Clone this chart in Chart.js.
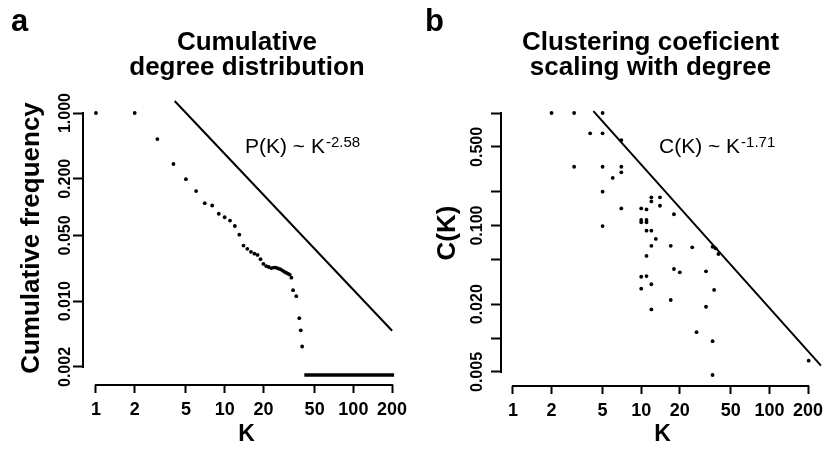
<!DOCTYPE html>
<html>
<head>
<meta charset="utf-8">
<script src="https://cdn.jsdelivr.net/npm/chart.js@4.4.1/dist/chart.umd.min.js"></script>
<style>
html, body { margin: 0; padding: 0; background: #fff; }
#wrap { position: relative; width: 828px; height: 449px; overflow: hidden; }
canvas { position: absolute; top: 0; }
#chartA { left: 0; }
#chartB { left: 414px; }
</style>
</head>
<body>
<div id="wrap">
  <canvas id="chartA" width="414" height="449"></canvas>
  <canvas id="chartB" width="414" height="449"></canvas>
</div>
<script>
// panel a: cumulative degree distribution
const degreeK = [1, 2, 3, 4, 5, 6, 7, 8, 9, 10, 11, 12, 13, 14, 15, 16, 17, 18, 19, 20,
  21, 22, 23, 24, 25, 26, 27, 28, 29, 30, 31, 32, 33, 34, 36, 38, 39, 40];
const cumFreq = [1.0, 1.0, 0.529, 0.287, 0.198, 0.148, 0.110, 0.104, 0.085, 0.078, 0.072, 0.063,
  0.051, 0.039, 0.036, 0.0335, 0.032, 0.031, 0.028, 0.0249, 0.0236, 0.0231, 0.0225, 0.0228,
  0.0228, 0.0223, 0.0219, 0.0213, 0.0206, 0.0201, 0.0196, 0.0192, 0.0178, 0.0131, 0.0113,
  0.0066, 0.0049, 0.0033];
const fitAK = [4.09, 200];
const fitAP = [1.34, 0.00486];
const barAK = [41.6, 207];
const barAP = [0.00164, 0.00164];

// panel b: clustering coefficient vs degree
const clusterK = [2, 3, 5, 4, 5, 7, 3, 5, 7, 7, 6, 5, 7, 10, 11, 12, 12, 14, 14, 18,
  10, 10, 11, 11, 5, 11, 12, 13, 12, 17, 25, 36, 38, 40, 11, 18, 20, 32, 10, 11,
  10, 12, 37, 17, 32, 12, 27, 36, 36, 202];
const clusterC = [1.0, 1.0, 1.0, 0.66, 0.66, 0.575, 0.333, 0.333, 0.333, 0.297, 0.265, 0.2,
  0.142, 0.142, 0.139, 0.178, 0.164, 0.178, 0.15, 0.126, 0.112, 0.107, 0.112, 0.107, 0.099,
  0.09, 0.09, 0.076, 0.066, 0.066, 0.064, 0.0647, 0.0628, 0.0559, 0.0537, 0.0411, 0.0384,
  0.0392, 0.0351, 0.0356, 0.0275, 0.0301, 0.0268, 0.0218, 0.019, 0.018, 0.0113, 0.0094,
  0.0047, 0.0063];
const fitBK = [4.24, 252];
const fitBC = [1.04, 0.00569];

// axes
const xTicks = [1, 2, 5, 10, 20, 50, 100, 200];
const xLabels = ['1', '2', '5', '10', '20', '50', '100', '200'];
const yTicksA = [0.002, 0.01, 0.05, 0.2, 1];
const yLabelsA = ['0.002', '0.010', '0.050', '0.200', '1.000'];
const yTicksB = [0.005, 0.01, 0.02, 0.05, 0.1, 0.2, 0.5, 1];
const yLabelsB = ['0.005', '', '0.020', '', '0.100', '', '0.500', ''];

const FONT = '"Liberation Sans", Arial, Helvetica, sans-serif';
Chart.defaults.font.family = FONT;
Chart.defaults.color = '#000';

const pts = (xs, ys) => xs.map((x, i) => ({ x: x, y: ys[i] }));

function yPad(labels, gap, tick) {
  const ctx = document.createElement('canvas').getContext('2d');
  ctx.font = 'bold 16px ' + FONT;
  const widest = Math.max(...labels.map(s => ctx.measureText(s).width));
  return gap - tick - widest / 2;
}

// R style axes (line from first to last tick), titles and fit labels
const rStyle = {
  id: 'rStyle',
  afterDraw(chart, args, o) {
    const { ctx, chartArea: ca, scales: { x, y } } = chart;
    ctx.save();
    ctx.strokeStyle = '#000';
    ctx.lineWidth = 2;
    ctx.beginPath();
    ctx.moveTo(x.getPixelForValue(x.ticks[0].value) - 1, ca.bottom);
    ctx.lineTo(x.getPixelForValue(x.ticks[x.ticks.length - 1].value) + 1, ca.bottom);
    ctx.moveTo(ca.left, y.getPixelForValue(y.ticks[0].value) + 1);
    ctx.lineTo(ca.left, y.getPixelForValue(y.ticks[y.ticks.length - 1].value) - 1);
    ctx.stroke();

    ctx.fillStyle = '#000';
    ctx.textBaseline = 'alphabetic';
    ctx.textAlign = 'left';
    ctx.font = 'bold 31px ' + FONT;
    ctx.fillText(o.letter, 11, 31);

    ctx.textAlign = 'center';
    ctx.font = 'bold 26px ' + FONT;
    o.title.forEach((t, i) => ctx.fillText(t, o.titleX, 50 + i * 25));

    ctx.textAlign = 'left';
    ctx.font = '21px ' + FONT;
    ctx.fillText(o.fitLabel, o.fitX, 153);
    const w = ctx.measureText(o.fitLabel).width;
    ctx.font = '15px ' + FONT;
    ctx.fillText(o.fitExp, o.fitX + w + 1, 146.5);
    ctx.restore();
  }
};

function makeChart(id, cfg) {
  return new Chart(document.getElementById(id), {
    type: 'scatter',
    data: { datasets: cfg.datasets },
    plugins: [rStyle],
    options: {
      responsive: false,
      animation: false,
      events: [],
      layout: { padding: { top: cfg.top, right: cfg.right, left: 0, bottom: 0 } },
      plugins: {
        legend: { display: false },
        tooltip: { enabled: false },
        rStyle: cfg.text
      },
      scales: {
        x: {
          type: 'logarithmic',
          min: cfg.xMin, max: cfg.xMax,
          afterBuildTicks: s => { s.ticks = xTicks.map(v => ({ value: v })); },
          afterFit: s => { s.height = cfg.xHeight; s.paddingLeft = 0; s.paddingRight = 0; },
          ticks: {
            autoSkip: false, minRotation: 0, maxRotation: 0, padding: 8, color: '#000',
            font: { size: 18, weight: 'bold', lineHeight: 1 },
            callback: (v, i) => xLabels[i]
          },
          grid: { drawOnChartArea: false, tickLength: 8, tickWidth: 2, tickColor: '#000' },
          border: { display: false },
          title: {
            display: true, text: 'K', color: '#000',
            font: { size: 23, weight: 'bold', lineHeight: 1 },
            padding: { top: 0, bottom: 3 }
          }
        },
        y: {
          type: 'logarithmic',
          min: cfg.yMin, max: cfg.yMax,
          afterBuildTicks: s => { s.ticks = cfg.yTicks.map(v => ({ value: v })); },
          afterFit: s => { s.width = cfg.yWidth; s.paddingTop = 0; s.paddingBottom = 0; },
          ticks: {
            autoSkip: false, minRotation: 90, crossAlign: 'center', color: '#000',
            padding: yPad(cfg.yLabels, cfg.labelGap, 10),
            font: { size: 16, weight: 'bold', lineHeight: 1 },
            callback: (v, i) => cfg.yLabels[i]
          },
          grid: { drawOnChartArea: false, tickLength: 10, tickWidth: 2, tickColor: '#000' },
          border: { display: false },
          title: {
            display: true, text: cfg.yTitle, color: '#000',
            font: { size: 26, weight: 'bold', lineHeight: 1 },
            padding: { top: cfg.yTitlePad, bottom: 0 }
          }
        }
      }
    }
  });
}

const dotStyle = { pointRadius: 1.9, pointBackgroundColor: '#000', pointBorderWidth: 0, showLine: false };
const lineStyle = { showLine: true, borderColor: '#000', borderWidth: 2, pointRadius: 0, borderCapStyle: 'butt' };

makeChart('chartA', {
  datasets: [
    Object.assign({ data: pts(degreeK, cumFreq) }, dotStyle),
    Object.assign({ data: pts(fitAK, fitAP) }, lineStyle),
    Object.assign({ data: pts(barAK, barAP) }, lineStyle, { borderWidth: 3.5 })
  ],
  top: 91, right: 3, xHeight: 64, yWidth: 83,
  xMin: 0.7931, xMax: 275.4, yMin: 0.001287, yMax: 1.7134,
  yTicks: yTicksA, yLabels: yLabelsA, labelGap: 17.5,
  yTitle: 'Cumulative frequency', yTitlePad: 18.5,
  text: { letter: 'a', title: ['Cumulative', 'degree distribution'], titleX: 247,
    fitLabel: 'P(K) ~ K', fitExp: '-2.58', fitX: 245 }
});

makeChart('chartB', {
  datasets: [
    Object.assign({ data: pts(clusterK, clusterC) }, dotStyle),
    Object.assign({ data: pts(fitBK, fitBC) }, lineStyle)
  ],
  top: 80, right: 2, xHeight: 63, yWidth: 87,
  xMin: 0.8073, xMax: 266.1, yMin: 0.003754, yMax: 1.9645,
  yTicks: yTicksB, yLabels: yLabelsB, labelGap: 23,
  yTitle: 'C(K)', yTitlePad: 20.5,
  text: { letter: 'b', title: ['Clustering coeficient', 'scaling with degree'], titleX: 236.5,
    fitLabel: 'C(K) ~ K', fitExp: '-1.71', fitX: 245 }
});
</script>
</body>
</html>
